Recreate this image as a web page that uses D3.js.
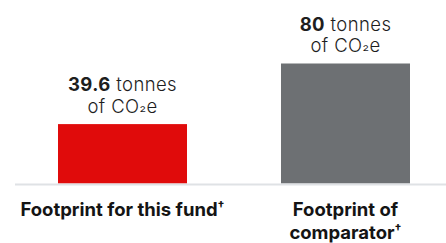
<!DOCTYPE html>
<html>
<head>
<meta charset="utf-8">
<script src="https://cdn.jsdelivr.net/npm/d3@7"></script>
<style>
  body { margin: 0; background: #fff; }
  svg { display: block; font-family: Inter, "Noto Sans", sans-serif; }
</style>
</head>
<body>
<div id="chart"></div>
<script>
/** chart data */
let categories = ["fund", "comparator"];
let values = [39.6, 80];
let valueUnits = ["tonnes", "of CO", "\u2082", "e"];
let categoryLabels = [["Footprint for this fund"], ["Footprint of", "comparator"]];
let barColors = ["#e00b0b", "#6d7073"];

/** canvas */
let width = 446, height = 243;
let svg = d3.select('#chart').append('svg')
    .attr('width', width)
    .attr('height', height);

/** scales */
let xScale = d3.scaleBand()
    .domain(categories)
    .range([58, 410])
    .paddingInner(0.4215)
    .paddingOuter(0);

let yScale = d3.scaleLinear()
    .domain([0, 80])
    .range([183.5, 63.5]);

/** bars */
svg.selectAll('.bars')
    .data(values)
    .enter()
        .append('rect')
        .attr('class', 'bars')
        .attr('x', (d, i) => xScale(categories[i]))
        .attr('y', d => yScale(d))
        .attr('width', xScale.bandwidth())
        .attr('height', d => yScale(0) - yScale(d))
        .attr('fill', (d, i) => barColors[i]);

/** baseline */
svg.append('line')
    .attr('x1', 15)
    .attr('x2', width)
    .attr('y1', yScale(0) + 1)
    .attr('y2', yScale(0) + 1)
    .attr('stroke', '#dfe2e5')
    .attr('stroke-width', 2);

/** value labels above the bars */
let valueText = svg.selectAll('.value-label')
    .data(values)
    .enter()
        .append('text')
        .attr('class', 'value-label')
        .attr('text-anchor', 'middle')
        .style('font-size', '18.5px')
        .style('letter-spacing', '0.4px')
        .style('fill', '#1e1e1e');

valueText.each(function (d, i) {
    let cx = xScale(categories[i]) + xScale.bandwidth() / 2;
    let top = yScale(d);
    let t = d3.select(this);
    let line1 = t.append('tspan').attr('x', cx).attr('y', top - 33);
    line1.append('tspan').style('font-weight', 700).text(d);
    line1.append('tspan').style('font-weight', 300).text(' ' + valueUnits[0]);
    let line2 = t.append('tspan').attr('x', cx).attr('y', top - 11.5)
        .style('font-weight', 300);
    line2.append('tspan').text(valueUnits[1]);
    // subscript 2 sits higher and smaller than the default glyph
    line2.append('tspan').attr('dy', -3).style('font-size', '15px').text(valueUnits[2]);
    line2.append('tspan').attr('dy', 3).text(valueUnits[3]);
});

/** category labels below the axis */
svg.selectAll('.cat-label')
    .data(categoryLabels)
    .enter()
        .append('text')
        .attr('class', 'cat-label')
        .attr('text-anchor', 'middle')
        .style('font-size', '18.5px')
        .style('font-weight', 700)
        .style('fill', '#141414')
        .each(function (lines, i) {
            let cx = xScale(categories[i]) + xScale.bandwidth() / 2;
            let t = d3.select(this);
            lines.forEach(function (line, j) {
                t.append('tspan')
                    .attr('x', cx)
                    .attr('y', 216 + j * 22.5)
                    .text(line);
                if (j === lines.length - 1) {
                    t.append('tspan')
                        .attr('dy', -6)
                        .style('font-size', '12px')
                        .text('\u2020');
                }
            });
        });
</script>
</body>
</html>
